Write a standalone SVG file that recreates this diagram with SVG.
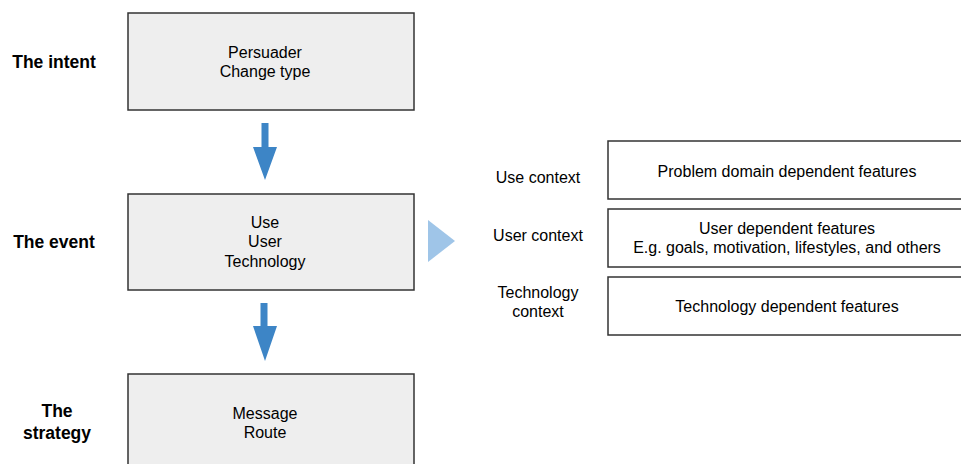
<svg xmlns="http://www.w3.org/2000/svg" width="961" height="464" viewBox="0 0 961 464">
  <style>
    text { font-family: "Liberation Sans", Arial, sans-serif; fill: #000; }
    .stage { font-size: 17.5px; font-weight: bold; text-anchor: middle; }
    .lbl { font-size: 16px; text-anchor: middle; }
    .box { fill: #eeeeee; stroke: #333333; stroke-width: 1.5; }
    .feat { fill: #ffffff; stroke: #333333; stroke-width: 1.5; }
    .flow { fill: #3d85c6; }
    .side { fill: #9fc5e8; }
  </style>

  <!-- stage labels -->
  <text class="stage" x="54" y="68">The intent</text>
  <text class="stage" x="54" y="248">The event</text>
  <text class="stage" x="57" y="417">The</text>
  <text class="stage" x="57" y="439">strategy</text>

  <g id="intent">
    <rect class="box" x="128" y="13" width="286" height="97"/>
    <text class="lbl" x="265" y="58">Persuader</text>
    <text class="lbl" x="265" y="77">Change type</text>
  </g>

  <g id="event">
    <rect class="box" x="128" y="194" width="286" height="96"/>
    <text class="lbl" x="265" y="228">Use</text>
    <text class="lbl" x="265" y="247">User</text>
    <text class="lbl" x="265" y="267">Technology</text>
  </g>

  <g id="strategy">
    <rect class="box" x="128" y="374" width="286" height="100"/>
    <text class="lbl" x="265" y="419">Message</text>
    <text class="lbl" x="265" y="438">Route</text>
  </g>

  <g id="connectors">
    <path class="flow" d="M261.5 123 H268.5 V147 H277 L265 180 L253 147 H261.5 Z"/>
    <path class="flow" d="M260.5 303 H267.5 V326 H277 L265 361 L253 326 H260.5 Z"/>
    <path class="side" d="M428 220 L455 241 L428 262 Z"/>
  </g>

  <g id="use-context">
    <text class="lbl" x="538" y="183">Use context</text>
    <rect class="feat" x="608" y="141" width="360" height="58"/>
    <text class="lbl" x="787" y="177">Problem domain dependent features</text>
  </g>

  <g id="user-context">
    <text class="lbl" x="538" y="241">User context</text>
    <rect class="feat" x="608" y="209" width="360" height="58"/>
    <text class="lbl" x="787" y="234">User dependent features</text>
    <text class="lbl" x="787" y="253">E.g. goals, motivation, lifestyles, and others</text>
  </g>

  <g id="technology-context">
    <text class="lbl" x="538" y="298">Technology</text>
    <text class="lbl" x="538" y="317">context</text>
    <rect class="feat" x="608" y="277" width="360" height="58"/>
    <text class="lbl" x="787" y="312">Technology  dependent features</text>
  </g>
</svg>
